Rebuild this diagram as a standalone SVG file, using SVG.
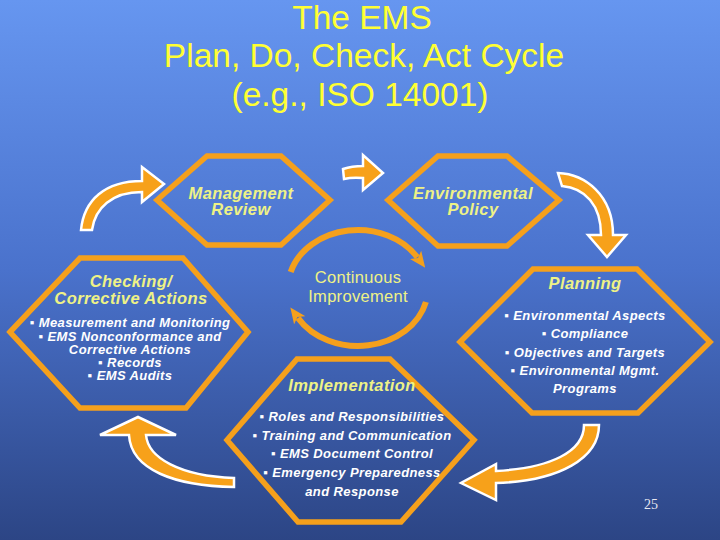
<svg xmlns="http://www.w3.org/2000/svg" width="720" height="540" viewBox="0 0 720 540">
<defs>
<linearGradient id="bg" x1="0" y1="0" x2="0" y2="1">
<stop offset="0" stop-color="#6696f0"/>
<stop offset="0.5" stop-color="#4a72cc"/>
<stop offset="1" stop-color="#2c4585"/>
</linearGradient>
<marker id="ah" viewBox="0 0 16 14" markerWidth="16" markerHeight="14" refX="3" refY="7" orient="auto" markerUnits="userSpaceOnUse">
<path d="M0,0 L16,7 L0,14 L4,7 z" fill="#f5a01c"/>
</marker>
<style>
.hex{fill:none;stroke:#f5a01c;stroke-width:5.5;stroke-linejoin:miter}
.arr{fill:#f7a11a;stroke:#ffffff;stroke-width:2.5;stroke-linejoin:miter}
.arc{fill:none;stroke:#f5a01c;stroke-width:6}
.ttl{font-family:"Liberation Sans",Arial,sans-serif;font-size:33.5px;fill:#ffff33;text-anchor:middle}
.nt{font-family:"Liberation Sans",Arial,sans-serif;font-size:16.5px;font-weight:bold;font-style:italic;fill:#eef286;text-anchor:middle;letter-spacing:0.4px}
.bl{font-family:"Liberation Sans",Arial,sans-serif;font-size:13px;font-weight:bold;font-style:italic;fill:#ffffff;text-anchor:middle;letter-spacing:0.4px}
.ci{font-family:"Liberation Sans",Arial,sans-serif;font-size:16.5px;fill:#eef286;text-anchor:middle;letter-spacing:0.3px}
.pg{font-family:"Liberation Serif","Times New Roman",serif;font-size:14px;fill:#e8e8f0;text-anchor:middle}
</style>
</defs>
<rect x="0" y="0" width="720" height="540" fill="url(#bg)"/>
<g id="title">
<text class="ttl" x="362" y="29">The EMS</text>
<text class="ttl" x="364" y="67">Plan, Do, Check, Act Cycle</text>
<text class="ttl" x="360" y="106">(e.g., ISO 14001)</text>
</g>
<g id="connectors">
<path class="arr" d="M81 230 C84 200 105 181 142 181 L142 167 L164 184 L142 202 L142 192 C112 192 95 208 92 230 Z"/>
<path class="arr" d="M343 169 Q352 166 363 166 L363 155 L383 173 L363 190 L363 178 Q352 177 344 179 Z"/>
<path class="arr" d="M558 173 C585 174 613 195 613 235 L626 235 L607 257 L588 235 L601 235 C601 205 585 188 562 186 Z"/>
<path class="arr" d="M584 425 L599 425 C599 458 560 481 496 483 L496 500 L461 483 L496 464 L496 471 C550 468 584 452 584 425 Z"/>
<path class="arr" d="M100 435 L138 417 L176 435 L146 435 C148 458 180 476 234 478 L234 487 C175 486 131 470 129 435 Z"/>
<path class="arc" d="M290.7 272 A70 58 0 0 1 417.4 257.3" marker-end="url(#ah)"/>
<path class="arc" d="M425.9 302 A70 58 0 0 1 298 317.9" marker-end="url(#ah)"/>
</g>
<g id="management-review">
<polygon class="hex" points="157,200 207,156 281,156 330,200 281,245 207,245"/>
<text class="nt" x="241" y="199">Management</text>
<text class="nt" x="241" y="215">Review</text>
</g>
<g id="environmental-policy">
<polygon class="hex" points="388,200 438,156 507,156 559,200 507,246 438,246"/>
<text class="nt" x="473" y="199">Environmental</text>
<text class="nt" x="473" y="215">Policy</text>
</g>
<g id="checking">
<polygon class="hex" points="10,332 80,258 183,258 248,332 186,408 80,408"/>
<text class="nt" x="131" y="287">Checking/</text>
<text class="nt" x="131" y="304">Corrective Actions</text>
<text class="bl" x="130" y="327">▪ Measurement and Monitoring</text>
<text class="bl" x="130" y="340.5">▪ EMS Nonconformance and</text>
<text class="bl" x="130" y="353.5">Corrective Actions</text>
<text class="bl" x="130" y="367">▪ Records</text>
<text class="bl" x="130" y="380">▪ EMS Audits</text>
</g>
<g id="planning">
<polygon class="hex" points="460,342 533,269 637,269 710,342 638,413 532,413"/>
<text class="nt" x="585" y="289">Planning</text>
<text class="bl" x="585" y="320">▪ Environmental Aspects</text>
<text class="bl" x="585" y="338">▪ Compliance</text>
<text class="bl" x="585" y="357">▪ Objectives and Targets</text>
<text class="bl" x="585" y="375">▪ Environmental Mgmt.</text>
<text class="bl" x="585" y="393">Programs</text>
</g>
<g id="implementation">
<polygon class="hex" points="227,440 297,359 390,359 474,440 401,522 298,522"/>
<text class="nt" x="352" y="391">Implementation</text>
<text class="bl" x="352" y="421">▪ Roles and Responsibilities</text>
<text class="bl" x="352" y="440">▪ Training and Communication</text>
<text class="bl" x="352" y="458">▪ EMS Document Control</text>
<text class="bl" x="352" y="477">▪ Emergency Preparedness</text>
<text class="bl" x="352" y="496">and Response</text>
</g>
<g id="continuous-improvement">
<text class="ci" x="358" y="283">Continuous</text>
<text class="ci" x="358" y="302">Improvement</text>
</g>
<text class="pg" x="651" y="509">25</text>
</svg>
